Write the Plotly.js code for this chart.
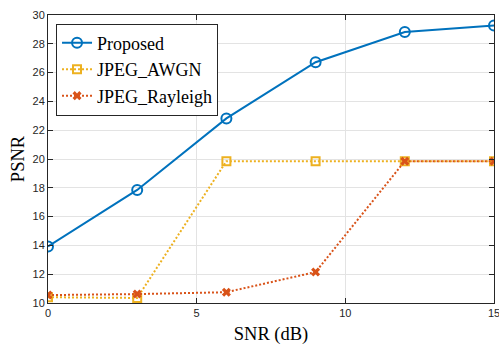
<!DOCTYPE html>
<html><head><meta charset="utf-8">
<script src="https://cdn.plot.ly/plotly-3.0.1.min.js"></script>
<style>html,body{margin:0;padding:0;background:#fff;}</style>
</head><body>
<div id="chart" style="width:499px;height:345px;"></div>
<script>
const snr = [0, 3, 6, 9, 12, 15];
const proposed = [13.93, 17.85, 22.82, 26.72, 28.82, 29.27];
const jpegAwgn = [10.4, 10.35, 19.85, 19.85, 19.85, 19.85];
const jpegRayleigh = [10.55, 10.62, 10.75, 12.15, 19.85, 19.85];
const xTicks = [0, 5, 10, 15];
const yTicks = [10, 12, 14, 16, 18, 20, 22, 24, 26, 28, 30];

const serif = 'Liberation Serif, Times New Roman, serif';
const sans = 'Liberation Sans, Arial, sans-serif';

const traces = [
  {x: snr, y: proposed, name: 'Proposed', mode: 'lines+markers',
   line: {color: '#0072BD', width: 2},
   marker: {symbol: 'circle-open', size: 10, color: '#0072BD', line: {width: 2, color: '#0072BD'}}},
  {x: snr, y: jpegAwgn, name: 'JPEG_AWGN', mode: 'lines+markers',
   line: {color: '#EDB120', width: 2, dash: '2px,2px'},
   marker: {symbol: 'square-open', size: 8, color: '#EDB120', line: {width: 2, color: '#EDB120'}}},
  {x: snr, y: jpegRayleigh, name: 'JPEG_Rayleigh', mode: 'lines+markers',
   line: {color: '#D95319', width: 2, dash: '2px,2px'},
   marker: {symbol: 'x', size: 8, color: '#D95319'}}
];

const layout = {
  width: 499, height: 345,
  margin: {l: 48, r: 5, t: 15, b: 42},
  paper_bgcolor: '#fff', plot_bgcolor: '#fff',
  showlegend: true,
  legend: {x: 0.018, y: 0.97, xanchor: 'left', yanchor: 'top',
    bgcolor: '#fff', bordercolor: '#262626', borderwidth: 1,
    font: {family: serif, size: 18, color: '#000'},
    tracegroupgap: 0, itemwidth: 30},
  xaxis: {range: [0, 15], tickvals: xTicks, ticktext: xTicks.map(String),
    showgrid: true, gridcolor: '#e3e3e3', gridwidth: 1, zeroline: false,
    showline: true, linecolor: '#262626', linewidth: 1, mirror: 'ticks',
    ticks: 'inside', ticklen: 5, tickcolor: '#262626', ticklabeloverflow: 'allow',
    tickfont: {family: sans, size: 11, color: '#262626'},
    title: {text: 'SNR (dB)', font: {family: serif, size: 18.5, color: '#000'}, standoff: 11}},
  yaxis: {range: [10, 30], tickvals: yTicks, ticktext: yTicks.map(String),
    showgrid: true, gridcolor: '#e3e3e3', gridwidth: 1, zeroline: false,
    showline: true, linecolor: '#262626', linewidth: 1, mirror: 'ticks',
    ticks: 'inside', ticklen: 5, tickcolor: '#262626', ticklabeloverflow: 'allow',
    tickfont: {family: sans, size: 11, color: '#262626'},
    title: {text: 'PSNR', font: {family: serif, size: 18.5, color: '#000'}, standoff: 3}}
};

Plotly.newPlot('chart', traces, layout, {displayModeBar: false, staticPlot: true});
</script>
</body></html>
